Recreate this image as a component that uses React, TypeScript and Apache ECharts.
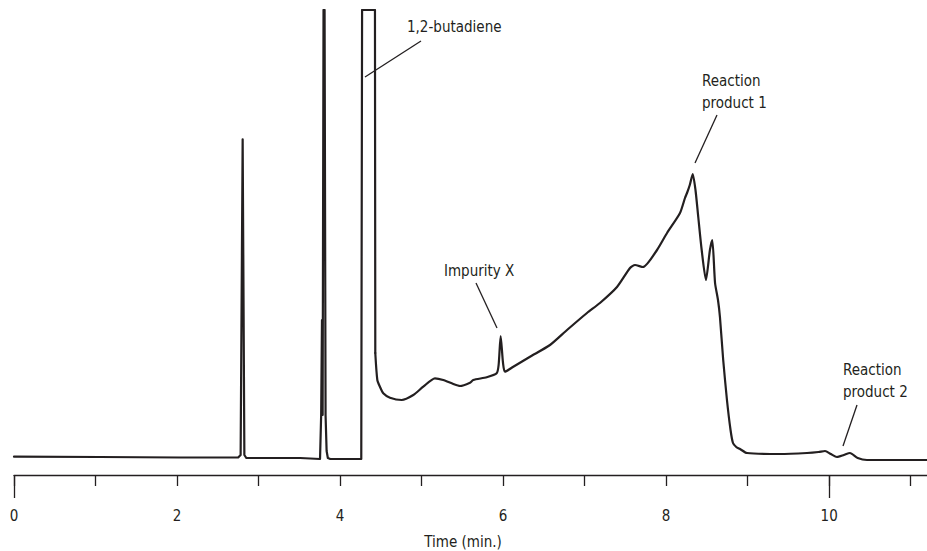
import React, { useEffect, useRef } from "react";
import * as echarts from "echarts";

// Retention time (min) and detector signal (arbitrary units, top of plot = 465)
const times: number[] = [
  0, 1.05, 2.04, 2.75, 2.78, 2.805, 2.826, 2.85, 3.51, 3.754,
  3.768, 3.778, 3.786, 3.797, 3.81, 3.822, 3.835, 3.85, 3.88, 4.26,
  4.265, 4.27, 4.428, 4.432, 4.457, 4.49, 4.53, 4.612, 4.756, 4.898,
  5.021, 5.164, 5.266, 5.389, 5.471, 5.594, 5.634, 5.799, 5.921, 5.945,
  5.97, 5.999, 6.023, 6.125, 6.33, 6.575, 6.784, 7.029, 7.188, 7.397,
  7.557, 7.618, 7.716, 7.888, 8.011, 8.17, 8.231, 8.256, 8.29, 8.326,
  8.36, 8.394, 8.436, 8.488, 8.537, 8.566, 8.6, 8.636, 8.66, 8.7,
  8.746, 8.79, 8.82, 8.86, 8.906, 8.992, 9.397, 9.728, 9.87, 9.949,
  10.02, 10.095, 10.18, 10.255, 10.35, 10.464, 11.2,
];
const signal: number[] = [
  18.3, 18, 17.5, 17.5, 20, 335.7, 20, 17, 17, 16,
  60, 155, 60, 465, 465, 60, 24, 17, 16, 16,
  16, 465, 465, 122, 95, 88, 81.7, 77.3, 75, 80,
  88.3, 96.7, 95, 91, 89, 92.3, 95, 97.7, 101.7, 110,
  139, 112, 103.3, 108.3, 118.3, 130, 145, 162, 172, 188,
  207, 210, 208, 225, 242, 262, 277, 282, 290, 301,
  285, 258, 225, 195, 225, 235, 192, 175, 158, 115,
  75, 45, 32, 28, 26, 22, 21, 22, 23, 24,
  21, 18, 20, 22, 17, 15, 15,
];
// the sharp early peaks are drawn unsmoothed up to this time
const sharpUntil = 4.432;
const majorLabels: number[] = [0, 2, 4, 6, 8, 10];
const axisName = "Time (min.)";
const annotations: { text: string; x: number; y: number }[] = [
  { text: "1,2-butadiene", x: 407, y: 27 },
  { text: "Impurity X", x: 444, y: 271 },
  { text: "Reaction\nproduct 1", x: 702, y: 92 },
  { text: "Reaction\nproduct 2", x: 843, y: 381 },
];
const leaders: number[][] = [
  [421, 41, 365, 77],
  [476, 283, 497, 328],
  [717, 115, 695, 163],
  [857, 405, 843, 446],
];

const FONT = "'Liberation Sans Narrow', 'DejaVu Sans Condensed', 'Roboto', sans-serif";
const INK = "#231f20";
const FS = 15;

export default function App() {
  const ref = useRef<HTMLDivElement>(null);
  useEffect(() => {
    if (!ref.current) return;
    const chart = echarts.init(ref.current, undefined, { renderer: "svg" });
    const data = times.map((t, i) => [t, signal[i]]);
    const early = data.filter((d) => d[0] <= sharpUntil);
    const late = data.filter((d) => d[0] >= sharpUntil);
    const PX = 913 / 11.2;
    const lineBase = {
      type: "line",
      xAxisIndex: 0,
      yAxisIndex: 0,
      showSymbol: false,
      symbol: "none",
      lineStyle: { color: INK, width: 2.2, join: "round", cap: "round" },
      clip: true,
    };
    chart.setOption({
      animation: false,
      backgroundColor: "#ffffff",
      grid: [
        { left: 14, right: 0, top: 10, bottom: 76 },
        { left: 14, right: 927 - 14 - 11 * PX, top: 10, bottom: 76 },
        { left: 14, right: 927 - 14 - 10 * PX, top: 10, bottom: 76 },
      ],
      xAxis: [
        {
          type: "value",
          gridIndex: 0,
          min: 0,
          max: 11.2,
          splitLine: { show: false },
          axisLine: { show: true, lineStyle: { color: INK, width: 1.3 } },
          axisTick: { show: false },
          axisLabel: { show: false },
        },
        {
          type: "value",
          gridIndex: 1,
          min: 0,
          max: 11,
          interval: 1,
          splitLine: { show: false },
          axisLine: { show: false },
          axisTick: { show: true, length: 11, lineStyle: { color: INK, width: 1.3 } },
          axisLabel: {
            show: true,
            margin: 33,
            color: INK,
            fontSize: FS,
            fontFamily: FONT,
            formatter: (v: number) => (majorLabels.indexOf(v) >= 0 ? String(v) : ""),
          },
        },
        {
          type: "value",
          gridIndex: 2,
          min: 0,
          max: 10,
          interval: 10,
          splitLine: { show: false },
          axisLine: { show: false },
          axisTick: { show: true, length: 23, lineStyle: { color: INK, width: 1.3 } },
          axisLabel: { show: false },
        },
      ],
      yAxis: [
        { type: "value", gridIndex: 0, min: 0, max: 465, show: false },
        { type: "value", gridIndex: 1, min: 0, max: 465, show: false },
        { type: "value", gridIndex: 2, min: 0, max: 465, show: false },
      ],
      series: [
        { ...lineBase, data: early, smooth: false },
        { ...lineBase, data: late, smooth: 0.22 },
      ],
      graphic: [
        ...annotations.map((a) => ({
          type: "text",
          x: a.x,
          y: a.y,
          style: {
            text: a.text,
            fill: INK,
            fontSize: FS,
            fontFamily: FONT,
            lineHeight: 22,
            align: "left",
            verticalAlign: "middle",
          },
          silent: true,
        })),
        ...leaders.map((l) => ({
          type: "line",
          shape: { x1: l[0], y1: l[1], x2: l[2], y2: l[3] },
          style: { stroke: INK, lineWidth: 1.3 },
          silent: true,
        })),
        {
          type: "text",
          x: 463,
          y: 542,
          style: {
            text: axisName,
            fill: INK,
            fontSize: FS,
            fontFamily: FONT,
            align: "center",
            verticalAlign: "middle",
          },
          silent: true,
        },
      ],
    });
    return () => chart.dispose();
  }, []);
  return (
    <div
      ref={ref}
      style={{ position: "fixed", left: 0, top: 0, width: 927, height: 551, background: "#fff" }}
    />
  );
}
